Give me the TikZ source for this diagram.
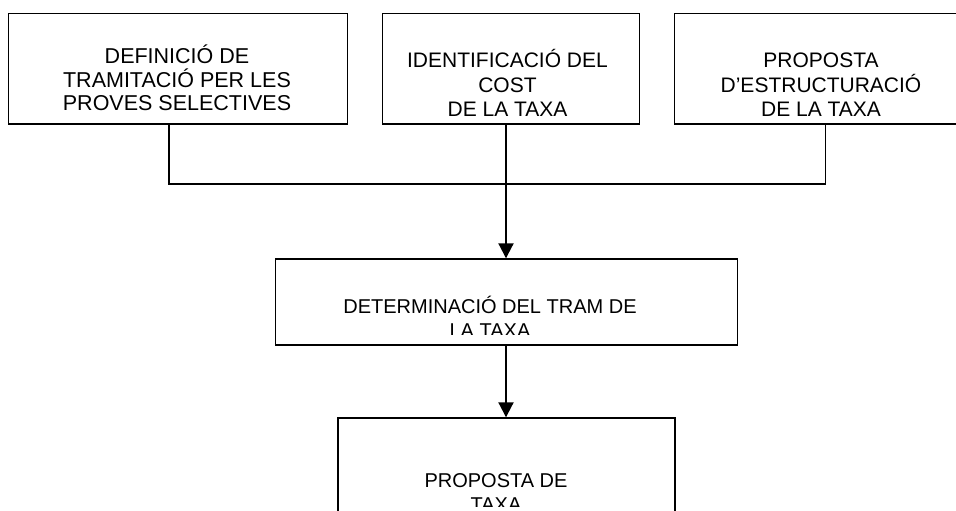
\documentclass[tikz,border=0pt]{standalone}
\usepackage{fontspec}
\setmainfont{Liberation Sans}
\usetikzlibrary{arrows.meta}

\begin{document}
\begin{tikzpicture}[x=1pt, y=-1pt]
  \tikzstyle{box} = [draw, line width=1.3pt, inner sep=0pt, anchor=north west]
  \tikzstyle{label} = [align=center, inner sep=0pt, anchor=base, font=\fontsize{20}{24}\selectfont]
  \tikzstyle{toplabel} = [label, font=\fontsize{21}{24.5}\selectfont]
  \tikzstyle{wire} = [line width=1.3pt]
  \tikzstyle{arrow} = [line width=2pt, -{Triangle[width=15pt, length=15pt]}]
  \useasboundingbox (0, 0) rectangle (956, 511);

  % top row
  \node[box, minimum width=339pt, minimum height=110.5pt] (defin) at (8, 12.7) {};
  \node[box, minimum width=257pt, minimum height=110.5pt] (cost) at (382, 12.7) {};
  \node[box, minimum width=294pt, minimum height=110.5pt] (estruc) at (674, 12.7) {};
  \node[toplabel, font=\fontsize{21.5}{23.4}\selectfont] (defint) at (177, 110.7) {DEFINICIÓ DE\\TRAMITACIÓ PER LES\\PROVES SELECTIVES};
  \node[toplabel] (costt) at (507.5, 116.7) {IDENTIFICACIÓ DEL\\COST\\DE LA TAXA};
  \node[toplabel] (estruct) at (821, 116.7) {PROPOSTA\\D’ESTRUCTURACIÓ\\DE LA TAXA};

  % lower boxes
  \node[box, minimum width=462pt, minimum height=86pt] (determ) at (274.7, 258.3) {};
  \node[box, minimum width=337pt, minimum height=120pt] (taxa) at (337.3, 417.3) {};
  \begin{scope}
    \clip (275, 259) rectangle (736, 334.5);
    \node[label] (determt) at (490, 337.6) {DETERMINACIÓ DEL TRAM DE\\LA TAXA};
  \end{scope}
  \begin{scope}
    \clip (338, 418) rectangle (674, 506);
    \node[label] (taxat) at (496, 511.3) {PROPOSTA DE\\TAXA};
  \end{scope}

  % connectors
  \coordinate (jl) at (169, 184);
  \coordinate (jm) at (506, 184);
  \coordinate (jr) at (825.7, 184);
  \draw[wire] (defin.south -| jl) -- (jl) -- (jr) -- (estruc.south -| jr);
  \draw[arrow] (cost.south -| jm) -- (determ.north -| jm);
  \draw[arrow] (determ.south -| jm) -- (taxa.north -| jm);
\end{tikzpicture}
\end{document}
